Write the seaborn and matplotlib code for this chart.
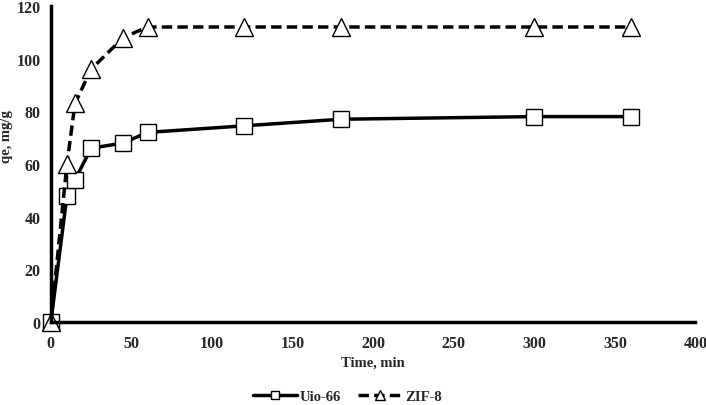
import numpy as np
import pandas as pd
import matplotlib.pyplot as plt
import seaborn as sns

# data
time_uio = [0, 10, 15, 25, 45, 60, 120, 180, 300, 360]
qe_uio = [0, 48, 54, 66, 68, 72, 74.5, 77, 78, 78]
time_zif = [0, 10, 15, 25, 45, 60, 120, 180, 300, 360]
qe_zif = [0, 60, 83, 96, 108, 112, 112, 112, 112, 112]

sns.set_style("white")
plt.rcParams['font.family'] = ['Liberation Serif', 'DejaVu Serif']
plt.rcParams['font.weight'] = 'bold'

fig = plt.figure(figsize=(7.06, 4.06), dpi=100)
ax = fig.add_axes([0.072, 0.204, 0.913, 0.779])

df_uio = pd.DataFrame({"t": time_uio, "q": qe_uio})
df_zif = pd.DataFrame({"t": time_zif, "q": qe_zif})

sns.lineplot(data=df_uio, x="t", y="q", ax=ax, color="black", lw=2.5,
             marker="s", markersize=11, markerfacecolor="white",
             markeredgecolor="black", markeredgewidth=1.0, label="Uio-66")
sns.lineplot(data=df_zif, x="t", y="q", ax=ax, color="black", lw=2.5,
             linestyle=(0, (3, 1.5)), marker="^", markersize=13,
             markerfacecolor="white", markeredgecolor="black",
             markeredgewidth=1.0, label="ZIF-8")

ax.set_xlim(0, 400)
ax.set_ylim(0, 120)
ax.set_xticks(np.arange(0, 401, 50))
ax.set_yticks(np.arange(0, 121, 20))
for lab in ax.get_xticklabels() + ax.get_yticklabels():
    lab.set_fontweight("bold")
ax.tick_params(axis="x", length=0, labelsize=11.5, pad=9)
ax.tick_params(axis="y", length=0, labelsize=11.5, pad=7.5)

sns.despine(ax=ax)
for s in ["left", "bottom"]:
    ax.spines[s].set_linewidth(2.5)
    ax.spines[s].set_color("black")
for line in ax.lines:
    line.set_clip_on(False)

ax.set_xlabel("Time, min", fontsize=10.5, fontweight="bold")
ax.xaxis.set_label_coords(0.5, -0.105)
ax.set_ylabel("qe, mg/g", fontsize=10.5, fontweight="bold")
ax.yaxis.set_label_coords(-0.058, 0.59)

ax.legend(loc="center", bbox_to_anchor=(0.46, -0.235), ncol=2,
          frameon=False, handlelength=3.0, columnspacing=1.2,
          handletextpad=0.2, markerscale=0.55,
          prop={"weight": "bold", "size": 10.5})

fig.savefig("out.png", dpi=100)
